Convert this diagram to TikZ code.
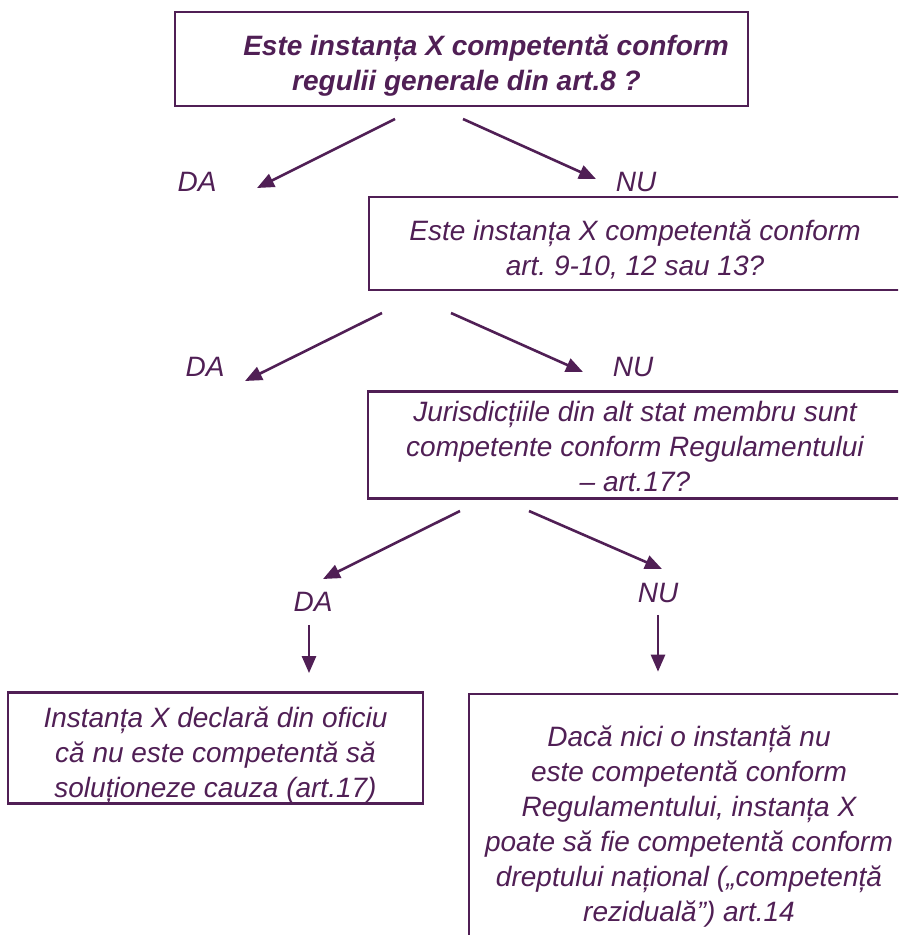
\documentclass[tikz,border=0pt]{standalone}
\usepackage{fontspec}
\setmainfont{Liberation Sans}
\usetikzlibrary{arrows.meta}
\definecolor{plum}{RGB}{80,31,85}
\newcommand{\topgap}[1]{\rule{0pt}{#1}}
\begin{document}
\begin{tikzpicture}[
  x=1pt,
  y=-1pt,
  qbox/.style={draw=plum, line width=2.6pt, text=plum, align=center, inner sep=0pt,
    font=\itshape\fontsize{28}{35}\selectfont},
  answer/.style={text=plum, inner sep=0pt, font=\itshape\fontsize{28}{35}\selectfont},
  branch/.style={draw=plum, line width=2.6pt, -{Triangle[length=17pt,width=14pt]}}
]
\useasboundingbox (0,0) rectangle (898,935);
\clip (0,0) rectangle (898,935);

% questions
\node[qbox, minimum width=573, minimum height=94, font=\bfseries\itshape\fontsize{28}{35}\selectfont]
  (art8) at (461.5,59) {\topgap{33pt}\hspace*{49pt}Este instanța X competentă conform\\\hspace*{10pt}regulii generale din art.8 ?};
\node[qbox, minimum width=532, minimum height=93] (art9) at (635,243.5)
  {\topgap{32pt}Este instanța X competentă conform\\art.\ 9-10, 12 sau 13?};
\node[qbox, minimum width=534, minimum height=107] (art17) at (635,445)
  {\topgap{24pt}Jurisdicțiile din alt stat membru sunt\\competente conform Regulamentului\\– art.17?};

% answers
\node[answer] (da1) at (197,182) {DA};
\node[answer] (nu1) at (636,182) {NU};
\node[answer] (da2) at (205,367) {DA};
\node[answer] (nu2) at (633,367) {NU};
\node[answer] (da3) at (313,602) {DA};
\node[answer] (nu3) at (658,593) {NU};

% outcomes
\node[qbox, minimum width=415, minimum height=110] (decl) at (215.5,748)
  {\topgap{35pt}Instanța X declară din oficiu\\că nu este competentă să\\soluționeze cauza (art.17)};
\node[qbox, minimum width=440, minimum height=258] (rezid) at (689,823)
  {\topgap{28pt}Dacă nici o instanță nu\\este competentă conform\\Regulamentului, instanța X\\poate să fie competentă conform\\dreptului național („competență\\reziduală”) art.14};

% branch ends
\coordinate (a1s) at (395,119);
\coordinate (a1e) at (257,188);
\coordinate (b1s) at (463,119);
\coordinate (b1e) at (596,179);
\coordinate (a2s) at (382,313);
\coordinate (a2e) at (245,381);
\coordinate (b2s) at (451,313);
\coordinate (b2e) at (583,372);
\coordinate (a3s) at (460,511);
\coordinate (a3e) at (323,579);
\coordinate (b3s) at (529,511);
\coordinate (b3e) at (662,569);

\draw[branch] (a1s) -- (a1e);
\draw[branch] (b1s) -- (b1e);
\draw[branch] (a2s) -- (a2e);
\draw[branch] (b2s) -- (b2e);
\draw[branch] (a3s) -- (a3e);
\draw[branch] (b3s) -- (b3e);

\draw[branch, shorten <=13pt, shorten >=18pt] ([xshift=-4pt]da3.south) -- ([xshift=-4pt]da3.south |- decl.north);
\draw[branch, shorten <=12pt, shorten >=21pt] (nu3.south) -- (nu3.south |- rezid.north);
\end{tikzpicture}
\end{document}
